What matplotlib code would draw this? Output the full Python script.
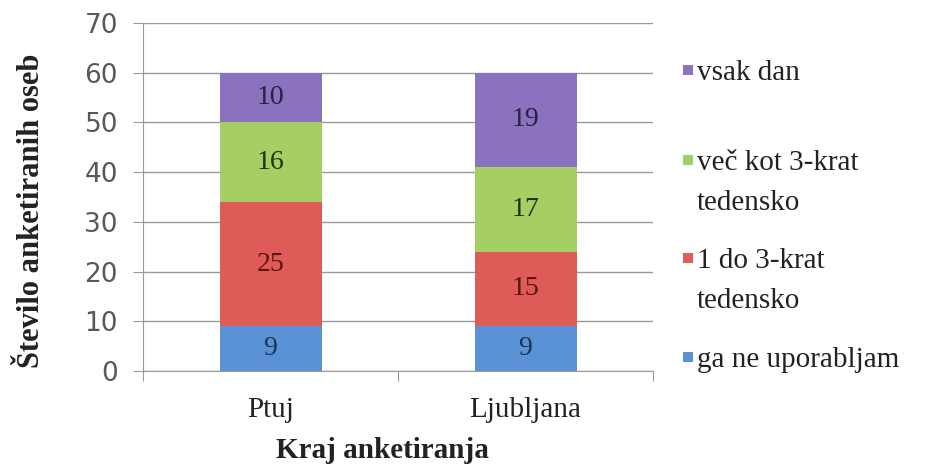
import matplotlib.pyplot as plt
from matplotlib.patches import Rectangle

places = ["Ptuj", "Ljubljana"]
series_names = ["ga ne uporabljam", "1 do 3-krat\ntedensko", "več kot 3-krat\ntedensko", "vsak dan"]
never = [9, 9]
one_to_three = [25, 15]
more_than_three = [16, 17]
every_day = [10, 19]

values = [never, one_to_three, more_than_three, every_day]
colors = ["#5B92D5", "#DF5B57", "#A5CF62", "#8B72BE"]
label_colors = ["#1c3556", "#5a1414", "#22300f", "#2a1f45"]

serif = "Liberation Serif"
W, H = 935, 467

fig = plt.figure(figsize=(W / 100, H / 100), dpi=100)
ax = fig.add_axes([143 / W, 1 - 371 / H, 510 / W, 348 / H])

x = [0, 1]
bottoms = [0, 0]
for vals, col, lcol, name in zip(values, colors, label_colors, series_names):
    bars = ax.bar(x, vals, width=0.4, bottom=bottoms, color=col, label=name, zorder=3)
    for b, v in zip(bars, vals):
        ax.text(b.get_x() + b.get_width() / 2, b.get_y() + v / 2, str(v),
                ha="center", va="center", fontsize=20, color=lcol,
                family=serif, zorder=4)
    bottoms = [b0 + v for b0, v in zip(bottoms, vals)]

ax.set_xlim(-0.5, 1.5)
ax.set_ylim(0, 70)
ax.set_yticks(range(0, 71, 10))
ax.grid(axis="y", color="#9a9a9a", linewidth=1.0, zorder=0)

# tick marks sit on category boundaries, labels under bar centres
ax.set_xticks([-0.5, 0.5, 1.5])
ax.set_xticklabels(["", "", ""])
ax.set_xticks(x, places, minor=True)
ax.tick_params(axis="x", which="major", length=7, color="#9a9a9a")
ax.tick_params(axis="x", which="minor", length=0, labelsize=21, pad=19,
               labelcolor="#222222")
for lab in ax.get_xticklabels(minor=True):
    lab.set_family(serif)

ax.tick_params(axis="y", length=7, color="#9a9a9a", labelsize=19,
               labelcolor="#595959", pad=11)
for lab in ax.get_yticklabels():
    lab.set_family("DejaVu Sans")

for s in ["top", "right"]:
    ax.spines[s].set_visible(False)
ax.spines["left"].set_color("#9a9a9a")
ax.spines["bottom"].set_color("#9a9a9a")

fig.text(32 / W, 1 - 211 / H, "Število anketiranih oseb", rotation=90,
         ha="center", va="center", fontsize=22, fontweight="bold",
         family=serif, color="#222222")
fig.text(382 / W, 1 - 451 / H, "Kraj anketiranja", ha="center", va="center",
         fontsize=21, fontweight="bold", family=serif, color="#222222")

# legend: coloured square beside the first line of each entry
legend_rows = [(70, 3), (160, 2), (258, 1), (357, 0)]
for ypix, idx in legend_rows:
    fig.patches.append(Rectangle((683 / W, 1 - (ypix + 5) / H), 10 / W, 10 / H,
                                 transform=fig.transFigure,
                                 facecolor=colors[idx], edgecolor="none"))
    for k, line in enumerate(series_names[idx].split("\n")):
        fig.text(697 / W, 1 - (ypix + 40 * k) / H, line, ha="left",
                 va="center_baseline", fontsize=21, family=serif,
                 color="#222222")

fig.savefig("out.png", dpi=100)
